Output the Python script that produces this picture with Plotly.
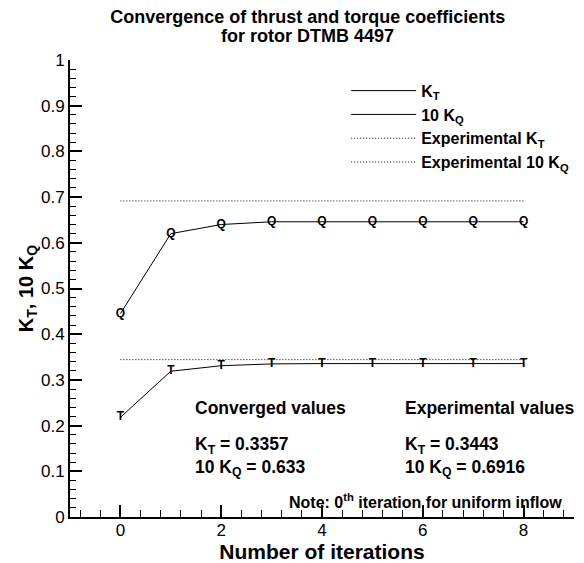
import plotly.graph_objects as go

iterations = [0, 1, 2, 3, 4, 5, 6, 7, 8]
kt_values = [0.218, 0.319, 0.331, 0.335, 0.3357, 0.3357, 0.3357, 0.3357, 0.3357]
kq10_values = [0.445, 0.620, 0.640, 0.646, 0.646, 0.646, 0.646, 0.646, 0.646]
kt_experimental = 0.3443
kq10_experimental = 0.6916
exp_x = [0, 8]

FONT = "Liberation Sans, Arial, sans-serif"

fig = go.Figure()

fig.add_trace(go.Scatter(
    x=iterations, y=kt_values, mode="lines+text", name="<b>K<sub>T</sub></b>",
    text=["T"] * len(iterations), textposition="middle center",
    textfont=dict(family=FONT, size=12, color="black", weight="bold"),
    line=dict(color="black", width=1)))
fig.add_trace(go.Scatter(
    x=iterations, y=kq10_values, mode="lines+text", name="<b>10 K<sub>Q</sub></b>",
    text=["Q"] * len(iterations), textposition="middle center",
    textfont=dict(family=FONT, size=12, color="black", weight="bold"),
    line=dict(color="black", width=1)))
fig.add_trace(go.Scatter(
    x=exp_x, y=[kt_experimental] * 2, mode="lines", name="<b>Experimental K<sub>T</sub></b>",
    line=dict(color="black", width=1, dash="1px,2px")))
fig.add_trace(go.Scatter(
    x=exp_x, y=[kq10_experimental] * 2, mode="lines", name="<b>Experimental 10 K<sub>Q</sub></b>",
    line=dict(color="black", width=1, dash="1px,2px")))

ann_font = dict(family=FONT, size=17.5, color="black")
fig.add_annotation(x=1.45, y=0.238, xref="x", yref="y", xanchor="left", yanchor="middle",
                   text="<b>Converged values</b>", showarrow=False, font=ann_font)
fig.add_annotation(x=5.61, y=0.238, xref="x", yref="y", xanchor="left", yanchor="middle",
                   text="<b>Experimental values</b>", showarrow=False, font=ann_font)
fig.add_annotation(x=1.45, y=0.187, xref="x", yref="y", xanchor="left", yanchor="top", align="left",
                   text="<b>K<sub>T</sub> = 0.3357<br>10 K<sub>Q</sub> = 0.633</b>",
                   showarrow=False, font=ann_font)
fig.add_annotation(x=5.61, y=0.187, xref="x", yref="y", xanchor="left", yanchor="top", align="left",
                   text="<b>K<sub>T</sub> = 0.3443<br>10 K<sub>Q</sub> = 0.6916</b>",
                   showarrow=False, font=ann_font)
fig.add_annotation(x=8.8, y=0.036, xref="x", yref="y", xanchor="right", yanchor="middle",
                   text="<b>Note: 0<sup>th</sup> iteration for uniform inflow</b>",
                   showarrow=False, font=dict(family=FONT, size=16, color="black"))
# second title line
fig.add_annotation(x=0.472, y=1.053, xref="paper", yref="paper", xanchor="center", yanchor="middle",
                   text="<b>for rotor DTMB 4497</b>", showarrow=False,
                   font=dict(family=FONT, size=18, color="black"))

fig.update_layout(
    width=584, height=563,
    margin=dict(l=70, r=10, t=60, b=46, autoexpand=False),
    paper_bgcolor="white", plot_bgcolor="white",
    font=dict(family=FONT, color="black"),
    title=dict(text="<b>Convergence of thrust and torque coefficients</b>",
               x=0.527, xanchor="center", xref="container",
               y=0.970, yanchor="middle", yref="container",
               font=dict(family=FONT, size=18, color="black")),
    showlegend=True,
    legend=dict(x=0.548, y=0.97, xanchor="left", yanchor="top",
                bgcolor="rgba(0,0,0,0)", borderwidth=0,
                font=dict(family=FONT, size=16, color="black"),
                itemwidth=65, tracegroupgap=0),
    xaxis=dict(range=[-1, 9], tick0=0, dtick=2, ticks="inside", ticklen=12, tickwidth=2,
               tickcolor="black", showline=True, linecolor="black", linewidth=2,
               showgrid=False, zeroline=False, mirror=False,
               tickfont=dict(family=FONT, size=17, color="black"),
               ticklabelstandoff=-3,
               minor=dict(ticks="inside", dtick=0.4, tick0=0, ticklen=7, tickwidth=1, tickcolor="black", showgrid=False),
               title=dict(text="<b>Number of iterations</b>", standoff=0,
                          font=dict(family=FONT, size=21, color="black"))),
    yaxis=dict(range=[0, 1], tick0=0, dtick=0.1, ticks="inside", ticklen=12, tickwidth=2,
               tickcolor="black", showline=True, linecolor="black", linewidth=2,
               showgrid=False, zeroline=False, mirror=False,
               tickfont=dict(family=FONT, size=17, color="black"),
               minor=dict(ticks="inside", dtick=0.02, tick0=0, ticklen=6, tickwidth=1, tickcolor="black", showgrid=False),
               title=dict(text="<b>K<sub>T</sub>, 10 K<sub>Q</sub></b>", standoff=2,
                          font=dict(family=FONT, size=20, color="black"))),
)

fig.write_html("out.html")
